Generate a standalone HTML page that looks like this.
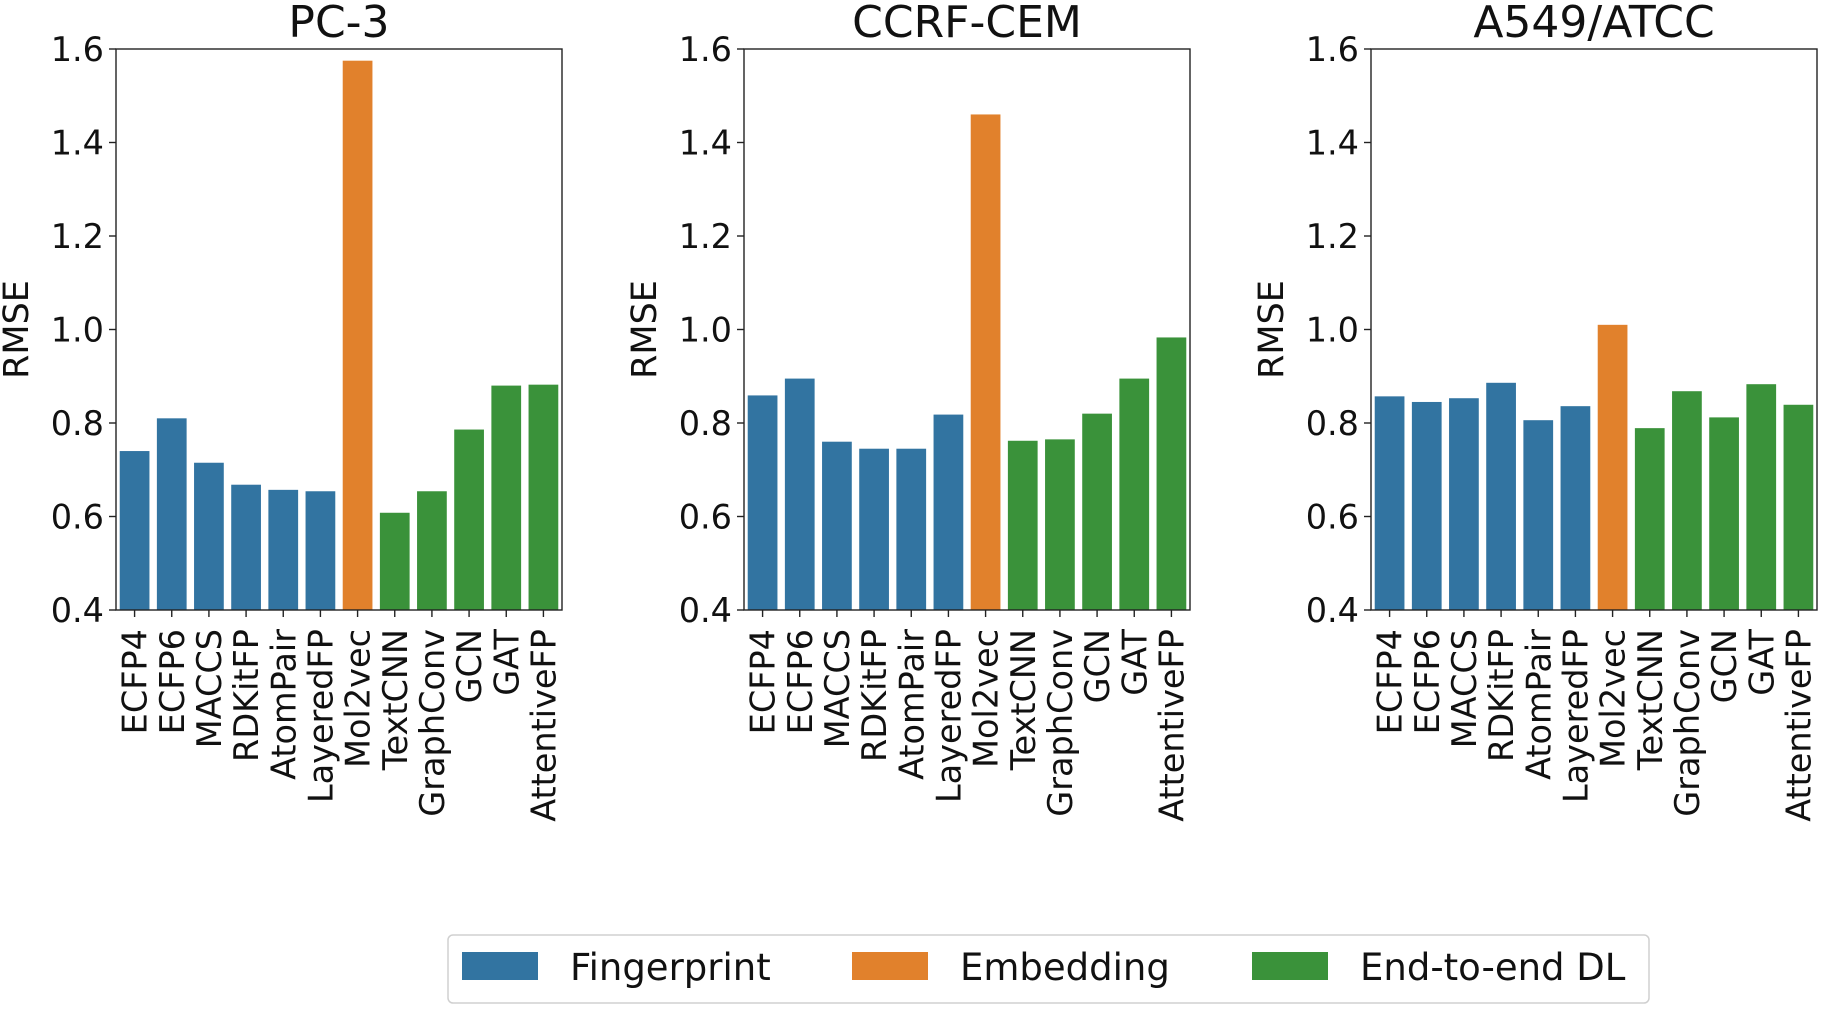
<!DOCTYPE html>
<html><head><meta charset="utf-8"><style>
html,body{margin:0;padding:0;background:#fff;}
svg{display:block;font-family:"DejaVu Sans","Liberation Sans",sans-serif;}
</style></head><body>
<svg id="chart" width="1823" height="1009" viewBox="0 0 1823 1009" xmlns="http://www.w3.org/2000/svg"></svg>
<script>
const categories = ["ECFP4","ECFP6","MACCS","RDKitFP","AtomPair","LayeredFP","Mol2vec","TextCNN","GraphConv","GCN","GAT","AttentiveFP"];
const groups = ["fp","fp","fp","fp","fp","fp","emb","dl","dl","dl","dl","dl"];
const panelTitles = ["PC-3","CCRF-CEM","A549/ATCC"];
const valuesPC3 = [0.740,0.810,0.715,0.668,0.657,0.654,1.575,0.608,0.654,0.786,0.880,0.882];
const valuesCCRF = [0.859,0.895,0.760,0.745,0.745,0.818,1.460,0.762,0.765,0.820,0.895,0.983];
const valuesA549 = [0.857,0.845,0.853,0.886,0.806,0.836,1.010,0.789,0.868,0.812,0.883,0.839];
const yTicks = [0.4,0.6,0.8,1.0,1.2,1.4,1.6];
const yTickLabels = ["0.4","0.6","0.8","1.0","1.2","1.4","1.6"];
const legendLabels = ["Fingerprint","Embedding","End-to-end DL"];

const colors = {fp:"#3274a1", emb:"#e1812c", dl:"#3a923a"};
const NS = "http://www.w3.org/2000/svg";
const svg = document.getElementById("chart");
function mk(tag, attrs, parent){
  const e = document.createElementNS(NS, tag);
  for (const k in attrs) e.setAttribute(k, attrs[k]);
  (parent||svg).appendChild(e);
  return e;
}
const plotTop = 49, plotBottom = 610, yMin = 0.4, yMax = 1.6;
const yScale = v => plotBottom - (v - yMin) / (yMax - yMin) * (plotBottom - plotTop);
const panelLefts = [116, 744, 1371];
const panelW = 446;
const allValues = [valuesPC3, valuesCCRF, valuesA549];

allValues.forEach((vals, p) => {
  const x0 = panelLefts[p];
  const band = panelW / categories.length;
  const xScale = i => x0 + band * i + band / 2;
  const g = mk("g", {});
  
  
  vals.forEach((v, i) => {
    const bw = band * 0.8;
    const r = mk("rect", {x: xScale(i) - bw/2, y: yScale(v), width: bw, height: plotBottom - yScale(v), fill: colors[groups[i]]}, g);
    
    
  });
  mk("rect", {x: x0, y: plotTop, width: panelW, height: plotBottom - plotTop, fill: "none", stroke: "#222", "stroke-width": 1.4}, g);
  yTicks.forEach((t, k) => {
    const y = yScale(t);
    mk("line", {x1: x0 - 7, x2: x0, y1: y, y2: y, stroke: "#222", "stroke-width": 1.4}, g);
    const tx = mk("text", {x: x0 - 12, y: y + 12, "text-anchor": "end", "font-size": 33.5, fill: "#111"}, g);
    tx.textContent = yTickLabels[k];
    
    
  });
  categories.forEach((c, i) => {
    const x = xScale(i);
    mk("line", {x1: x, x2: x, y1: plotBottom, y2: plotBottom + 7, stroke: "#222", "stroke-width": 1.4}, g);
    const tx = mk("text", {transform: `translate(${x + 12},${plotBottom + 19}) rotate(-90)`, "text-anchor": "end", "font-size": 33.5, fill: "#111"}, g);
    tx.textContent = c;
    
    
  });
  const title = mk("text", {x: x0 + panelW/2, y: 37, "text-anchor": "middle", "font-size": 44, fill: "#111"}, g);
  title.textContent = panelTitles[p];
  
  
  const yl = mk("text", {transform: `translate(${x0 - 88},${(plotTop+plotBottom)/2}) rotate(-90)`, "text-anchor": "middle", "font-size": 35, fill: "#111"}, g);
  yl.textContent = "RMSE";
  
  
});

const lg = mk("g", {});


mk("rect", {x: 448, y: 935, width: 1201, height: 68, rx: 5, fill: "#fff", stroke: "#d0d0d0", "stroke-width": 1.5}, lg);
const legX = [462, 852, 1252];
const legKeys = ["fp","emb","dl"];
legendLabels.forEach((l, i) => {
  const e = mk("g", {}, lg);
  
  
  mk("rect", {x: legX[i], y: 952, width: 76, height: 28, fill: colors[legKeys[i]]}, e);
  const t = mk("text", {x: legX[i] + 108, y: 980, "font-size": 37, fill: "#111"}, e);
  t.textContent = l;
});
</script>
</body></html>
